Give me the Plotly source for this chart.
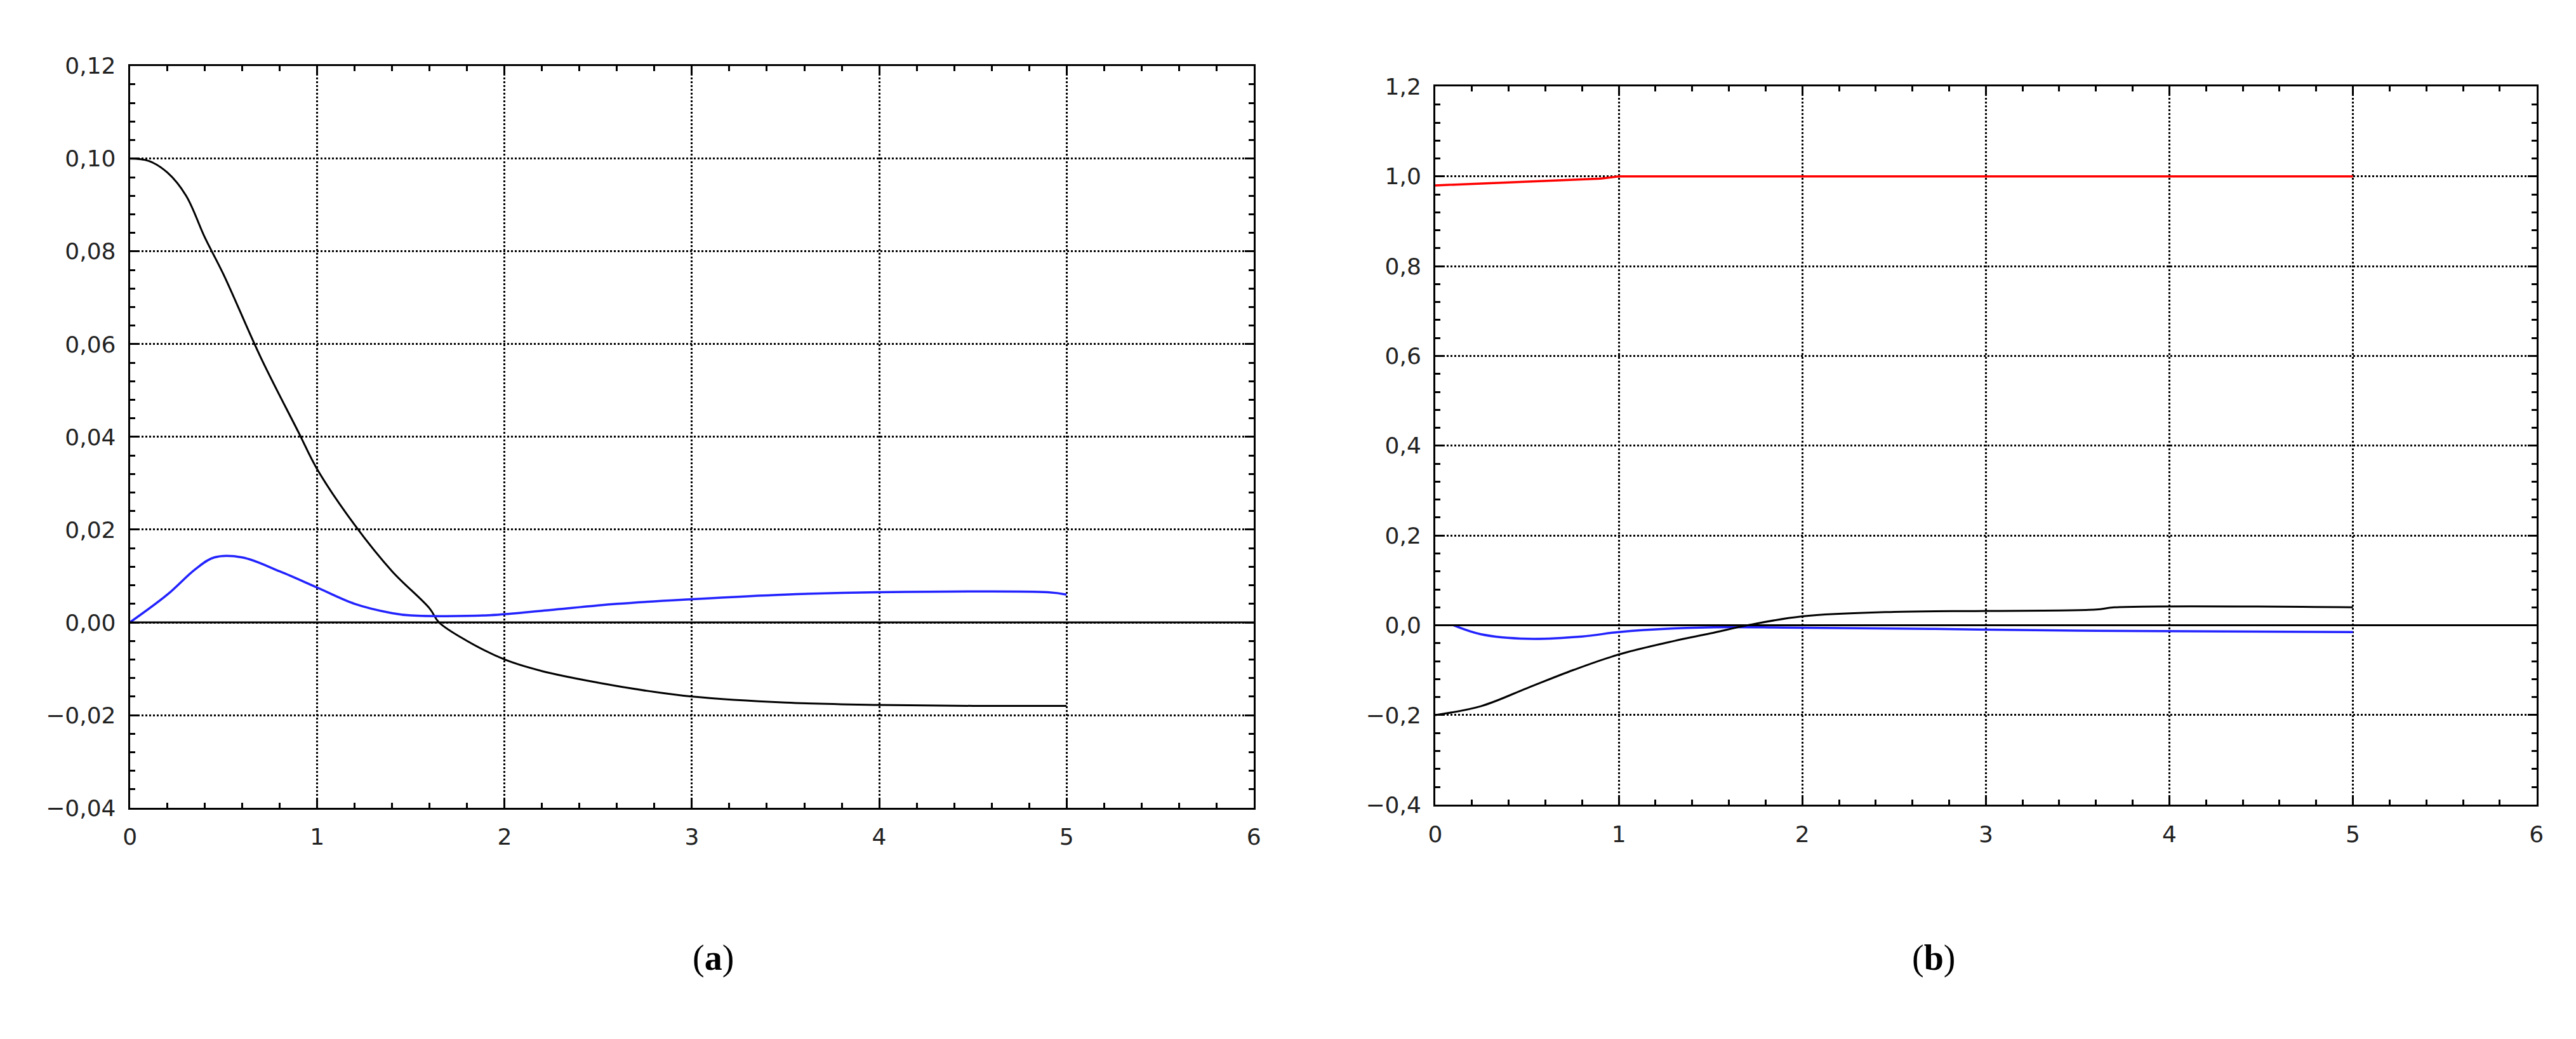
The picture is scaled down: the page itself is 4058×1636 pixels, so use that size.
import plotly.graph_objects as go

# (a)
ta_black = [0, 0.1, 0.2, 0.3, 0.4, 0.5, 0.7, 0.9, 1.0, 1.2, 1.4, 1.6, 1.65, 1.8, 2.0, 2.2, 2.5, 2.8, 3.0, 3.5, 4.0, 4.5, 5.0]
ya_black = [0.100, 0.0995, 0.097, 0.092, 0.083, 0.075, 0.057, 0.041, 0.033, 0.021, 0.011, 0.003, 0.0, -0.004, -0.008, -0.0105, -0.013, -0.015, -0.016, -0.0173, -0.0178, -0.018, -0.018]
ta_blue = [0, 0.2, 0.35, 0.45, 0.6, 0.8, 1.0, 1.2, 1.4, 1.5, 1.9, 2.2, 2.6, 3.0, 3.5, 4.0, 4.9, 5.0]
ya_blue = [0.0, 0.006, 0.0115, 0.014, 0.014, 0.011, 0.0075, 0.004, 0.002, 0.0015, 0.0015, 0.0025, 0.004, 0.005, 0.006, 0.0065, 0.0065, 0.006]
# (b)
tb_red = [0, 0.3, 0.55, 0.9, 1.0, 5.0]
yb_red = [0.98, 0.985, 0.99, 0.995, 1.0, 1.0]
tb_blue = [0.1, 0.25, 0.5, 0.8, 1.0, 1.3, 1.6, 1.9, 2.7, 3.5, 5.0]
yb_blue = [0.0, -0.02, -0.03, -0.025, -0.015, -0.007, -0.004, -0.005, -0.008, -0.012, -0.015]
tb_black = [0, 0.25, 0.5, 0.75, 1.0, 1.3, 1.5, 1.7, 2.0, 2.5, 3.0, 3.6, 3.7, 5.0]
yb_black = [-0.2, -0.18, -0.14, -0.1, -0.065, -0.035, -0.018, 0.0, 0.02, 0.03, 0.032, 0.035, 0.04, 0.04]

fig = go.Figure()
fig.add_trace(go.Scatter(x=ta_black, y=ya_black, mode="lines", line=dict(color="black", width=3, shape="spline"), xaxis="x", yaxis="y"))
fig.add_trace(go.Scatter(x=ta_blue, y=ya_blue, mode="lines", line=dict(color="#2222ff", width=3.5, shape="spline"), xaxis="x", yaxis="y"))
fig.add_trace(go.Scatter(x=tb_red, y=yb_red, mode="lines", line=dict(color="red", width=3.5), xaxis="x2", yaxis="y2"))
fig.add_trace(go.Scatter(x=tb_blue, y=yb_blue, mode="lines", line=dict(color="#2222ff", width=3.5, shape="spline"), xaxis="x2", yaxis="y2"))
fig.add_trace(go.Scatter(x=tb_black, y=yb_black, mode="lines", line=dict(color="black", width=3, shape="spline"), xaxis="x2", yaxis="y2"))

font = dict(family="DejaVu Sans", size=36, color="#222")
def ax(dom, rng, dtick, minor, fmt, anchor):
    return dict(domain=dom, range=rng, dtick=dtick, tick0=rng[0], showgrid=True, gridcolor="black", griddash="dot", gridwidth=3,
                showline=True, linecolor="black", linewidth=3, mirror="ticks", ticks="inside", ticklen=14, tickwidth=3, tickcolor="black",
                minor=dict(dtick=minor, ticks="inside", ticklen=8, tickwidth=3, tickcolor="black", showgrid=False),
                zeroline=False, tickfont=font, tickformat=fmt, anchor=anchor, fixedrange=True, ticklabelstandoff=12)

fig.update_layout(
    width=4058, height=1636, margin=dict(l=0, r=0, t=0, b=0), showlegend=False,
    plot_bgcolor="white", paper_bgcolor="white", separators=", ",
    xaxis=ax([0.046, 0.4847], [0, 6], 1, 0.2, "d", "y"),
    yaxis=ax([0.22, 0.9525], [-0.04, 0.12], 0.02, 0.004, ".2f", "x"),
    xaxis2=ax([0.5555, 0.9853], [0, 6], 1, 0.2, "d", "y2"),
    yaxis2=ax([0.223, 0.932], [-0.4, 1.2], 0.2, 0.04, ".1f", "x2"),
    shapes=[dict(type="line", xref="x", yref="y", x0=0, x1=6, y0=0, y1=0, line=dict(color="black", width=3)),
            dict(type="line", xref="x2", yref="y2", x0=0, x1=6, y0=0, y1=0, line=dict(color="black", width=3))],
    annotations=[dict(text="(<b>a</b>)", x=0.265, y=0.051, xref="paper", yref="paper", showarrow=False, font=dict(family="Liberation Serif", size=56, color="black")),
                 dict(text="(<b>b</b>)", x=0.759, y=0.051, xref="paper", yref="paper", showarrow=False, font=dict(family="Liberation Serif", size=56, color="black"))],
)
fig.write_html("out.html")
